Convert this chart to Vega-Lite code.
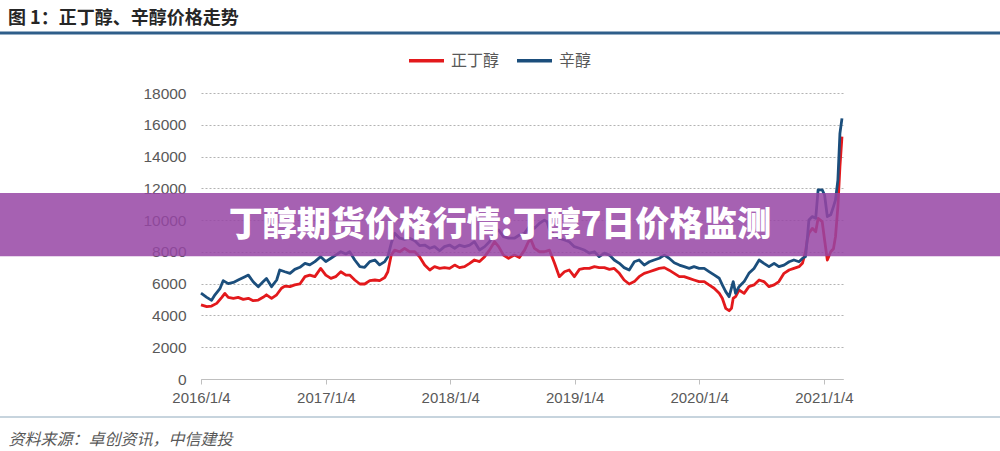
{
  "$schema": "https://vega.github.io/schema/vega-lite/v6.json",
  "width": 642,
  "height": 286,
  "autosize": {"type": "none"},
  "padding": {"left": 201, "top": 93, "right": 157, "bottom": 72},
  "background": "white",
  "title": {
    "text": "图 1：正丁醇、辛醇价格走势",
    "anchor": "start",
    "frame": "group",
    "dx": -193,
    "dy": -4,
    "offset": 0,
    "font": "Noto Sans CJK SC",
    "fontSize": 18,
    "fontWeight": "bold",
    "color": "#262626"
  },
  "config": {
    "view": {"stroke": null},
    "font": "Liberation Sans",
    "axisY": {
      "tickCount": 12,
      "format": "d",
      "domain": false,
      "ticks": false,
      "labelOverlap": false,
      "labelPadding": 15,
      "labelFont": "Liberation Sans",
      "labelFontSize": 15.5,
      "labelColor": "#595959",
      "gridColor": "#b3b3b3",
      "gridDash": [2, 2],
      "title": null
    }
  },
  "datasets": {
    "prices": [
      {"date": "2016-01-04", "series": "正丁醇", "price": 4660},
      {"date": "2016-01-21", "series": "正丁醇", "price": 4550},
      {"date": "2016-02-04", "series": "正丁醇", "price": 4590},
      {"date": "2016-02-19", "series": "正丁醇", "price": 4760},
      {"date": "2016-03-05", "series": "正丁醇", "price": 5140},
      {"date": "2016-03-14", "series": "正丁醇", "price": 5390},
      {"date": "2016-03-24", "series": "正丁醇", "price": 5140},
      {"date": "2016-04-08", "series": "正丁醇", "price": 5080},
      {"date": "2016-04-22", "series": "正丁醇", "price": 5140},
      {"date": "2016-05-07", "series": "正丁醇", "price": 5010},
      {"date": "2016-05-22", "series": "正丁醇", "price": 5080},
      {"date": "2016-06-05", "series": "正丁醇", "price": 4930},
      {"date": "2016-06-20", "series": "正丁醇", "price": 4970},
      {"date": "2016-07-04", "series": "正丁醇", "price": 5140},
      {"date": "2016-07-14", "series": "正丁醇", "price": 5300},
      {"date": "2016-07-29", "series": "正丁醇", "price": 5080},
      {"date": "2016-08-13", "series": "正丁醇", "price": 5300},
      {"date": "2016-08-27", "series": "正丁醇", "price": 5710},
      {"date": "2016-09-06", "series": "正丁醇", "price": 5850},
      {"date": "2016-09-21", "series": "正丁醇", "price": 5810},
      {"date": "2016-10-05", "series": "正丁醇", "price": 5920},
      {"date": "2016-10-20", "series": "正丁醇", "price": 5980},
      {"date": "2016-11-04", "series": "正丁醇", "price": 6440},
      {"date": "2016-11-18", "series": "正丁醇", "price": 6540},
      {"date": "2016-12-03", "series": "正丁醇", "price": 6440},
      {"date": "2016-12-20", "series": "正丁醇", "price": 6960},
      {"date": "2017-01-04", "series": "正丁醇", "price": 6540},
      {"date": "2017-01-19", "series": "正丁醇", "price": 6330},
      {"date": "2017-02-02", "series": "正丁醇", "price": 6440},
      {"date": "2017-02-17", "series": "正丁醇", "price": 6750},
      {"date": "2017-03-04", "series": "正丁醇", "price": 6540},
      {"date": "2017-03-15", "series": "正丁醇", "price": 6540},
      {"date": "2017-03-30", "series": "正丁醇", "price": 6230},
      {"date": "2017-04-14", "series": "正丁醇", "price": 5980},
      {"date": "2017-04-28", "series": "正丁醇", "price": 5980},
      {"date": "2017-05-13", "series": "正丁醇", "price": 6190},
      {"date": "2017-05-28", "series": "正丁醇", "price": 6230},
      {"date": "2017-06-11", "series": "正丁醇", "price": 6190},
      {"date": "2017-06-26", "series": "正丁醇", "price": 6390},
      {"date": "2017-07-05", "series": "正丁醇", "price": 6750},
      {"date": "2017-07-15", "series": "正丁醇", "price": 7800},
      {"date": "2017-07-25", "series": "正丁醇", "price": 8110},
      {"date": "2017-08-09", "series": "正丁醇", "price": 8010},
      {"date": "2017-08-23", "series": "正丁醇", "price": 8220},
      {"date": "2017-09-07", "series": "正丁醇", "price": 8010},
      {"date": "2017-09-22", "series": "正丁醇", "price": 8010},
      {"date": "2017-10-06", "series": "正丁醇", "price": 7700},
      {"date": "2017-10-21", "series": "正丁醇", "price": 7170},
      {"date": "2017-11-05", "series": "正丁醇", "price": 6860},
      {"date": "2017-11-19", "series": "正丁醇", "price": 7070},
      {"date": "2017-12-04", "series": "正丁醇", "price": 6960},
      {"date": "2017-12-18", "series": "正丁醇", "price": 7010},
      {"date": "2018-01-02", "series": "正丁醇", "price": 6960},
      {"date": "2018-01-17", "series": "正丁醇", "price": 7170},
      {"date": "2018-01-31", "series": "正丁醇", "price": 7010},
      {"date": "2018-02-15", "series": "正丁醇", "price": 7070},
      {"date": "2018-03-02", "series": "正丁醇", "price": 7280},
      {"date": "2018-03-16", "series": "正丁醇", "price": 7490},
      {"date": "2018-03-31", "series": "正丁醇", "price": 7390},
      {"date": "2018-04-15", "series": "正丁醇", "price": 7700},
      {"date": "2018-04-29", "series": "正丁醇", "price": 8110},
      {"date": "2018-05-14", "series": "正丁醇", "price": 8640},
      {"date": "2018-05-26", "series": "正丁醇", "price": 8330},
      {"date": "2018-06-09", "series": "正丁醇", "price": 7800},
      {"date": "2018-06-24", "series": "正丁醇", "price": 7600},
      {"date": "2018-07-11", "series": "正丁醇", "price": 7800},
      {"date": "2018-07-26", "series": "正丁醇", "price": 7650},
      {"date": "2018-08-10", "series": "正丁醇", "price": 8110},
      {"date": "2018-08-19", "series": "正丁醇", "price": 8540},
      {"date": "2018-08-27", "series": "正丁醇", "price": 8850},
      {"date": "2018-09-08", "series": "正丁醇", "price": 8220},
      {"date": "2018-09-23", "series": "正丁醇", "price": 8010},
      {"date": "2018-10-07", "series": "正丁醇", "price": 8010},
      {"date": "2018-10-22", "series": "正丁醇", "price": 8110},
      {"date": "2018-11-06", "series": "正丁醇", "price": 7280},
      {"date": "2018-11-20", "series": "正丁醇", "price": 6440},
      {"date": "2018-12-05", "series": "正丁醇", "price": 6750},
      {"date": "2018-12-19", "series": "正丁醇", "price": 6860},
      {"date": "2019-01-03", "series": "正丁醇", "price": 6440},
      {"date": "2019-01-18", "series": "正丁醇", "price": 6900},
      {"date": "2019-02-01", "series": "正丁醇", "price": 6960},
      {"date": "2019-02-16", "series": "正丁醇", "price": 6960},
      {"date": "2019-03-03", "series": "正丁醇", "price": 7070},
      {"date": "2019-03-17", "series": "正丁醇", "price": 7010},
      {"date": "2019-04-01", "series": "正丁醇", "price": 7010},
      {"date": "2019-04-16", "series": "正丁醇", "price": 6900},
      {"date": "2019-04-30", "series": "正丁醇", "price": 6960},
      {"date": "2019-05-15", "series": "正丁醇", "price": 6650},
      {"date": "2019-05-29", "series": "正丁醇", "price": 6230},
      {"date": "2019-06-13", "series": "正丁醇", "price": 5980},
      {"date": "2019-06-28", "series": "正丁醇", "price": 6130},
      {"date": "2019-07-12", "series": "正丁醇", "price": 6440},
      {"date": "2019-07-27", "series": "正丁醇", "price": 6650},
      {"date": "2019-08-11", "series": "正丁醇", "price": 6750},
      {"date": "2019-08-25", "series": "正丁醇", "price": 6850},
      {"date": "2019-09-09", "series": "正丁醇", "price": 6960},
      {"date": "2019-09-24", "series": "正丁醇", "price": 7010},
      {"date": "2019-10-08", "series": "正丁醇", "price": 6850},
      {"date": "2019-10-23", "series": "正丁醇", "price": 6650},
      {"date": "2019-11-07", "series": "正丁醇", "price": 6440},
      {"date": "2019-11-21", "series": "正丁醇", "price": 6440},
      {"date": "2019-12-06", "series": "正丁醇", "price": 6330},
      {"date": "2019-12-20", "series": "正丁醇", "price": 6230},
      {"date": "2020-01-04", "series": "正丁醇", "price": 6130},
      {"date": "2020-01-19", "series": "正丁醇", "price": 6130},
      {"date": "2020-02-02", "series": "正丁醇", "price": 5920},
      {"date": "2020-02-17", "series": "正丁醇", "price": 5710},
      {"date": "2020-03-03", "series": "正丁醇", "price": 5390},
      {"date": "2020-03-12", "series": "正丁醇", "price": 5080},
      {"date": "2020-03-22", "series": "正丁醇", "price": 4450},
      {"date": "2020-04-01", "series": "正丁醇", "price": 4300},
      {"date": "2020-04-08", "series": "正丁醇", "price": 4450},
      {"date": "2020-04-13", "series": "正丁醇", "price": 5080},
      {"date": "2020-04-20", "series": "正丁醇", "price": 5180},
      {"date": "2020-04-30", "series": "正丁醇", "price": 5600},
      {"date": "2020-05-15", "series": "正丁醇", "price": 5390},
      {"date": "2020-05-29", "series": "正丁醇", "price": 5810},
      {"date": "2020-06-13", "series": "正丁醇", "price": 5920},
      {"date": "2020-06-28", "series": "正丁醇", "price": 6230},
      {"date": "2020-07-12", "series": "正丁醇", "price": 6130},
      {"date": "2020-07-27", "series": "正丁醇", "price": 5810},
      {"date": "2020-08-11", "series": "正丁醇", "price": 5920},
      {"date": "2020-08-25", "series": "正丁醇", "price": 6130},
      {"date": "2020-09-09", "series": "正丁醇", "price": 6650},
      {"date": "2020-09-24", "series": "正丁醇", "price": 6860},
      {"date": "2020-10-08", "series": "正丁醇", "price": 6960},
      {"date": "2020-10-23", "series": "正丁醇", "price": 7070},
      {"date": "2020-11-02", "series": "正丁醇", "price": 7280},
      {"date": "2020-11-11", "series": "正丁醇", "price": 8000},
      {"date": "2020-11-16", "series": "正丁醇", "price": 8750},
      {"date": "2020-11-21", "series": "正丁醇", "price": 9170},
      {"date": "2020-12-01", "series": "正丁醇", "price": 9480},
      {"date": "2020-12-11", "series": "正丁醇", "price": 9270},
      {"date": "2020-12-18", "series": "正丁醇", "price": 10110},
      {"date": "2020-12-30", "series": "正丁醇", "price": 9900},
      {"date": "2021-01-06", "series": "正丁醇", "price": 8750},
      {"date": "2021-01-14", "series": "正丁醇", "price": 7490},
      {"date": "2021-01-24", "series": "正丁醇", "price": 8010},
      {"date": "2021-02-01", "series": "正丁醇", "price": 8200},
      {"date": "2021-02-07", "series": "正丁醇", "price": 8960},
      {"date": "2021-02-14", "series": "正丁醇", "price": 10850},
      {"date": "2021-02-20", "series": "正丁醇", "price": 13360},
      {"date": "2021-02-26", "series": "正丁醇", "price": 15250},
      {"date": "2016-01-04", "series": "辛醇", "price": 5400},
      {"date": "2016-01-21", "series": "辛醇", "price": 5140},
      {"date": "2016-02-04", "series": "辛醇", "price": 4950},
      {"date": "2016-02-14", "series": "辛醇", "price": 5300},
      {"date": "2016-02-29", "series": "辛醇", "price": 5710},
      {"date": "2016-03-09", "series": "辛醇", "price": 6190},
      {"date": "2016-03-24", "series": "辛醇", "price": 6000},
      {"date": "2016-04-08", "series": "辛醇", "price": 6080},
      {"date": "2016-04-22", "series": "辛醇", "price": 6230},
      {"date": "2016-05-12", "series": "辛醇", "price": 6440},
      {"date": "2016-05-22", "series": "辛醇", "price": 6540},
      {"date": "2016-06-05", "series": "辛醇", "price": 6120},
      {"date": "2016-06-20", "series": "辛醇", "price": 5810},
      {"date": "2016-07-04", "series": "辛醇", "price": 6120},
      {"date": "2016-07-14", "series": "辛醇", "price": 6330},
      {"date": "2016-07-29", "series": "辛醇", "price": 5810},
      {"date": "2016-08-13", "series": "辛醇", "price": 6230},
      {"date": "2016-08-22", "series": "辛醇", "price": 6860},
      {"date": "2016-09-06", "series": "辛醇", "price": 6750},
      {"date": "2016-09-21", "series": "辛醇", "price": 6650},
      {"date": "2016-10-05", "series": "辛醇", "price": 6900},
      {"date": "2016-10-20", "series": "辛醇", "price": 7030},
      {"date": "2016-11-04", "series": "辛醇", "price": 7280},
      {"date": "2016-11-18", "series": "辛醇", "price": 7180},
      {"date": "2016-12-03", "series": "辛醇", "price": 7390},
      {"date": "2016-12-20", "series": "辛醇", "price": 7700},
      {"date": "2017-01-04", "series": "辛醇", "price": 7390},
      {"date": "2017-01-19", "series": "辛醇", "price": 7600},
      {"date": "2017-02-02", "series": "辛醇", "price": 7800},
      {"date": "2017-02-17", "series": "辛醇", "price": 8010},
      {"date": "2017-03-04", "series": "辛醇", "price": 7870},
      {"date": "2017-03-15", "series": "辛醇", "price": 8010},
      {"date": "2017-03-30", "series": "辛醇", "price": 7490},
      {"date": "2017-04-14", "series": "辛醇", "price": 7070},
      {"date": "2017-04-28", "series": "辛醇", "price": 7030},
      {"date": "2017-05-13", "series": "辛醇", "price": 7390},
      {"date": "2017-05-28", "series": "辛醇", "price": 7490},
      {"date": "2017-06-11", "series": "辛醇", "price": 7180},
      {"date": "2017-06-26", "series": "辛醇", "price": 7390},
      {"date": "2017-07-05", "series": "辛醇", "price": 7700},
      {"date": "2017-07-15", "series": "辛醇", "price": 8540},
      {"date": "2017-07-25", "series": "辛醇", "price": 9170},
      {"date": "2017-08-09", "series": "辛醇", "price": 8860},
      {"date": "2017-08-23", "series": "辛醇", "price": 8790},
      {"date": "2017-09-07", "series": "辛醇", "price": 8860},
      {"date": "2017-09-22", "series": "辛醇", "price": 8700},
      {"date": "2017-10-06", "series": "辛醇", "price": 8400},
      {"date": "2017-10-21", "series": "辛醇", "price": 8430},
      {"date": "2017-11-05", "series": "辛醇", "price": 8230},
      {"date": "2017-11-19", "series": "辛醇", "price": 8330},
      {"date": "2017-12-04", "series": "辛醇", "price": 8070},
      {"date": "2017-12-18", "series": "辛醇", "price": 8330},
      {"date": "2018-01-02", "series": "辛醇", "price": 8430},
      {"date": "2018-01-17", "series": "辛醇", "price": 8230},
      {"date": "2018-01-31", "series": "辛醇", "price": 8430},
      {"date": "2018-02-15", "series": "辛醇", "price": 8330},
      {"date": "2018-03-02", "series": "辛醇", "price": 8430},
      {"date": "2018-03-16", "series": "辛醇", "price": 8640},
      {"date": "2018-03-31", "series": "辛醇", "price": 8120},
      {"date": "2018-04-15", "series": "辛醇", "price": 8330},
      {"date": "2018-04-29", "series": "辛醇", "price": 8640},
      {"date": "2018-05-14", "series": "辛醇", "price": 9170},
      {"date": "2018-05-26", "series": "辛醇", "price": 9380},
      {"date": "2018-06-09", "series": "辛醇", "price": 8960},
      {"date": "2018-06-24", "series": "辛醇", "price": 8860},
      {"date": "2018-07-11", "series": "辛醇", "price": 8860},
      {"date": "2018-07-26", "series": "辛醇", "price": 9060},
      {"date": "2018-08-10", "series": "辛醇", "price": 9170},
      {"date": "2018-08-27", "series": "辛醇", "price": 9690},
      {"date": "2018-09-08", "series": "辛醇", "price": 9480},
      {"date": "2018-09-23", "series": "辛醇", "price": 9800},
      {"date": "2018-10-07", "series": "辛醇", "price": 10000},
      {"date": "2018-10-15", "series": "辛醇", "price": 9900},
      {"date": "2018-10-22", "series": "辛醇", "price": 9380},
      {"date": "2018-11-06", "series": "辛醇", "price": 9060},
      {"date": "2018-11-20", "series": "辛醇", "price": 8860},
      {"date": "2018-12-05", "series": "辛醇", "price": 8750},
      {"date": "2018-12-19", "series": "辛醇", "price": 8640},
      {"date": "2019-01-03", "series": "辛醇", "price": 8330},
      {"date": "2019-01-18", "series": "辛醇", "price": 8230},
      {"date": "2019-02-01", "series": "辛醇", "price": 8120},
      {"date": "2019-02-16", "series": "辛醇", "price": 7920},
      {"date": "2019-03-03", "series": "辛醇", "price": 8010},
      {"date": "2019-03-17", "series": "辛醇", "price": 7700},
      {"date": "2019-04-01", "series": "辛醇", "price": 7920},
      {"date": "2019-04-16", "series": "辛醇", "price": 7800},
      {"date": "2019-04-30", "series": "辛醇", "price": 7490},
      {"date": "2019-05-15", "series": "辛醇", "price": 7280},
      {"date": "2019-05-29", "series": "辛醇", "price": 7010},
      {"date": "2019-06-13", "series": "辛醇", "price": 6860},
      {"date": "2019-06-28", "series": "辛醇", "price": 7380},
      {"date": "2019-07-12", "series": "辛醇", "price": 7490},
      {"date": "2019-07-27", "series": "辛醇", "price": 7170},
      {"date": "2019-08-11", "series": "辛醇", "price": 7380},
      {"date": "2019-08-25", "series": "辛醇", "price": 7490},
      {"date": "2019-09-09", "series": "辛醇", "price": 7600},
      {"date": "2019-09-24", "series": "辛醇", "price": 7800},
      {"date": "2019-10-08", "series": "辛醇", "price": 7600},
      {"date": "2019-10-23", "series": "辛醇", "price": 7320},
      {"date": "2019-11-07", "series": "辛醇", "price": 7170},
      {"date": "2019-11-21", "series": "辛醇", "price": 7070},
      {"date": "2019-12-06", "series": "辛醇", "price": 6960},
      {"date": "2019-12-20", "series": "辛醇", "price": 7070},
      {"date": "2020-01-04", "series": "辛醇", "price": 6960},
      {"date": "2020-01-19", "series": "辛醇", "price": 6960},
      {"date": "2020-02-02", "series": "辛醇", "price": 6760},
      {"date": "2020-02-17", "series": "辛醇", "price": 6550},
      {"date": "2020-03-03", "series": "辛醇", "price": 6340},
      {"date": "2020-03-12", "series": "辛醇", "price": 5920},
      {"date": "2020-03-22", "series": "辛醇", "price": 5500},
      {"date": "2020-04-01", "series": "辛醇", "price": 5180},
      {"date": "2020-04-13", "series": "辛醇", "price": 6130},
      {"date": "2020-04-20", "series": "辛醇", "price": 5390},
      {"date": "2020-04-30", "series": "辛醇", "price": 5810},
      {"date": "2020-05-15", "series": "辛醇", "price": 6130},
      {"date": "2020-05-29", "series": "辛醇", "price": 6650},
      {"date": "2020-06-13", "series": "辛醇", "price": 6960},
      {"date": "2020-06-28", "series": "辛醇", "price": 7490},
      {"date": "2020-07-12", "series": "辛醇", "price": 7280},
      {"date": "2020-07-27", "series": "辛醇", "price": 7070},
      {"date": "2020-08-11", "series": "辛醇", "price": 7280},
      {"date": "2020-08-25", "series": "辛醇", "price": 7070},
      {"date": "2020-09-09", "series": "辛醇", "price": 7170},
      {"date": "2020-09-24", "series": "辛醇", "price": 7380},
      {"date": "2020-10-08", "series": "辛醇", "price": 7490},
      {"date": "2020-10-23", "series": "辛醇", "price": 7380},
      {"date": "2020-11-02", "series": "辛醇", "price": 7590},
      {"date": "2020-11-11", "series": "辛醇", "price": 7700},
      {"date": "2020-11-16", "series": "辛醇", "price": 8750},
      {"date": "2020-11-21", "series": "辛醇", "price": 10010},
      {"date": "2020-12-01", "series": "辛醇", "price": 10220},
      {"date": "2020-12-11", "series": "辛醇", "price": 10120},
      {"date": "2020-12-18", "series": "辛醇", "price": 11900},
      {"date": "2020-12-30", "series": "辛醇", "price": 11900},
      {"date": "2021-01-06", "series": "辛醇", "price": 11580},
      {"date": "2021-01-14", "series": "辛醇", "price": 10220},
      {"date": "2021-01-24", "series": "辛醇", "price": 10330},
      {"date": "2021-02-01", "series": "辛醇", "price": 10850},
      {"date": "2021-02-07", "series": "辛醇", "price": 11270},
      {"date": "2021-02-14", "series": "辛醇", "price": 12520},
      {"date": "2021-02-20", "series": "辛醇", "price": 15460},
      {"date": "2021-02-26", "series": "辛醇", "price": 16400}
    ],
    "deco": [{"note": "overlay"}]
  },
  "layer": [
    {
      "data": {"name": "prices"},
      "mark": {"type": "line", "strokeWidth": 2.8, "strokeJoin": "round"},
      "encoding": {
        "x": {
          "field": "date",
          "type": "temporal",
          "scale": {"domain": [{"year": 2016, "month": 1, "date": 4}, {"year": 2021, "month": 3, "date": 1}]},
          "axis": {
            "values": [
              {"year": 2016, "month": 1, "date": 4},
              {"year": 2017, "month": 1, "date": 4},
              {"year": 2018, "month": 1, "date": 4},
              {"year": 2019, "month": 1, "date": 4},
              {"year": 2020, "month": 1, "date": 4},
              {"year": 2021, "month": 1, "date": 4}
            ],
            "tickCount": 12,
            "format": "%Y/%-m/%-d",
            "grid": false,
            "domainColor": "#bfbfbf",
            "tickColor": "#bfbfbf",
            "tickSize": 5,
            "labelPadding": 6,
            "labelFont": "Liberation Sans",
            "labelFontSize": 15,
            "labelColor": "#595959",
            "labelFlush": false,
            "labelOverlap": false,
            "title": "资料来源：卓创资讯，中信建投",
            "titleX": -193,
            "titleY": 60,
            "titleAlign": "left",
            "titleBaseline": "middle",
            "titleFont": "Noto Sans CJK SC",
            "titleFontSize": 16,
            "titleFontWeight": "normal",
            "titleFontStyle": "italic",
            "titleColor": "#595959"
          }
        },
        "y": {
          "field": "price",
          "type": "quantitative",
          "scale": {"domain": [0, 18000], "nice": false},
          "axis": {"values": [0, 2000, 4000, 6000, 8000, 10000, 12000, 14000, 16000, 18000], "tickCount": 12, "labelOverlap": false}
        },
        "color": {
          "field": "series",
          "type": "nominal",
          "scale": {"domain": ["正丁醇", "辛醇"], "range": ["#e3191c", "#1b4e7c"]},
          "legend": {
            "orient": "none",
            "legendX": 206,
            "legendY": -52,
            "direction": "horizontal",
            "title": null,
            "symbolType": "stroke",
            "symbolSize": 1225,
            "symbolStrokeWidth": 3.5,
            "labelOffset": 5,
            "columnPadding": 10,
            "labelFont": "Noto Sans CJK SC",
            "labelFontSize": 16,
            "labelColor": "#595959"
          }
        }
      }
    },
    {
      "data": {"name": "deco"},
      "mark": {"type": "rect", "color": "#9645a5", "opacity": 0.85},
      "encoding": {
        "x": {"datum": {"year": 2014, "month": 1, "date": 1}, "type": "temporal"},
        "x2": {"datum": {"year": 2023, "month": 1, "date": 1}},
        "y": {"datum": 11710, "type": "quantitative"},
        "y2": {"datum": 7720}
      }
    },
    {
      "data": {"name": "deco"},
      "mark": {"type": "text", "font": "Noto Sans CJK SC", "fontSize": 34, "fontWeight": 900, "color": "white", "align": "center", "baseline": "middle"},
      "encoding": {
        "x": {"datum": {"year": 2018, "month": 5, "date": 30}, "type": "temporal"},
        "y": {"datum": 9630, "type": "quantitative"},
        "text": {"value": "丁醇期货价格行情:丁醇7日价格监测"}
      }
    },
    {
      "data": {"name": "deco"},
      "mark": {"type": "rule", "color": "#2e5e8a", "strokeWidth": 3},
      "encoding": {
        "x": {"datum": {"year": 2014, "month": 1, "date": 1}, "type": "temporal"},
        "x2": {"datum": {"year": 2023, "month": 1, "date": 1}},
        "y": {"datum": 21776, "type": "quantitative"}
      }
    },
    {
      "data": {"name": "deco"},
      "mark": {"type": "rule", "color": "#8fa9bc", "strokeWidth": 1},
      "encoding": {
        "x": {"datum": {"year": 2014, "month": 1, "date": 1}, "type": "temporal"},
        "x2": {"datum": {"year": 2023, "month": 1, "date": 1}},
        "y": {"datum": -2392, "type": "quantitative"}
      }
    }
  ]
}
